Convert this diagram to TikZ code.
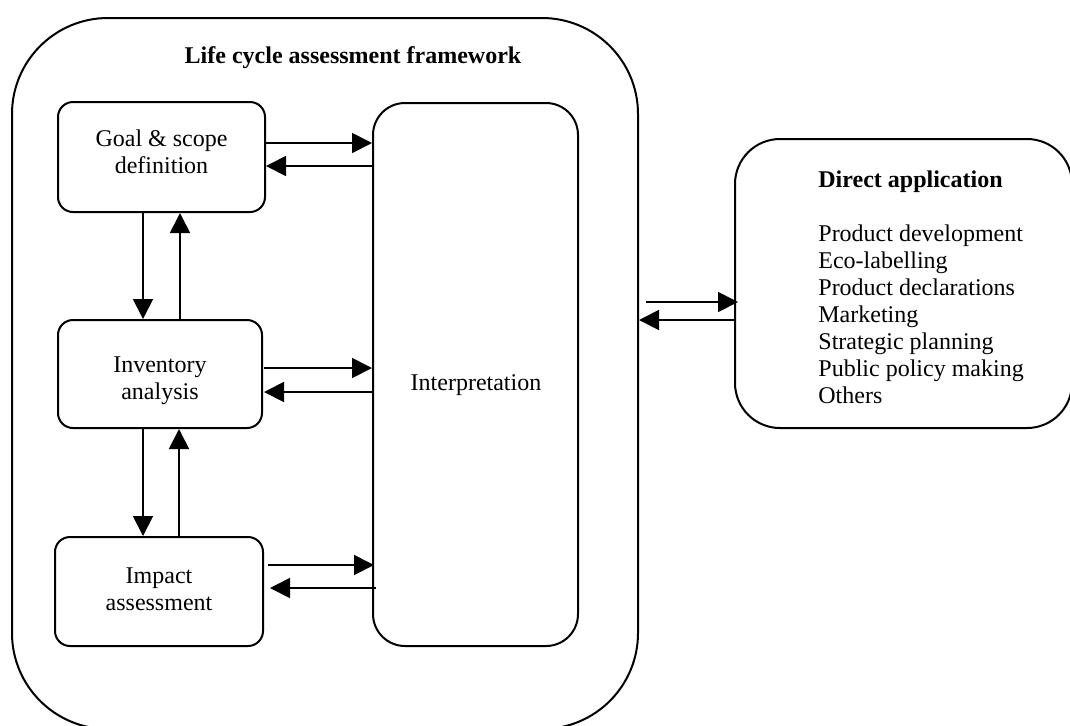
\documentclass[tikz,border=0pt]{standalone}
\usepackage{fontspec}
\setmainfont{Liberation Serif}
\usetikzlibrary{arrows.meta,calc}
\begin{document}
\begin{tikzpicture}[x=0.5pt,y=-0.5pt,
 box/.style={draw,line width=1pt,rounded corners=7.5pt,inner sep=0pt},
 txt/.style={font=\fontsize{12}{13.5}\selectfont,align=center,inner sep=0pt},
 arr/.style={line width=0.9pt,-{Triangle[length=10pt,width=10pt]}}]
\useasboundingbox (0,0) rectangle (1070,725);
% outer frame
\node[box,rounded corners=48pt,minimum width=313pt,minimum height=355.5pt] (frame) at (325,373.5) {};
\node[txt,font=\fontsize{12}{13.5}\selectfont\bfseries,anchor=base] (title) at (353,63) {Life cycle assessment framework};
% phase boxes
\node[box,minimum width=103.5pt,minimum height=55pt,
  label={[txt,yshift=2.5pt]center:Goal \& scope\\definition}] (goal) at (161.5,157) {};
\node[box,minimum width=102pt,minimum height=54pt,
  label={[txt,yshift=-3.5pt]center:Inventory\\analysis}] (inv) at (160,374) {};
\node[box,minimum width=104pt,minimum height=54.5pt,
  label={[txt,yshift=1.25pt]center:Impact\\assessment}] (imp) at (159,591.5) {};
\node[box,rounded corners=16pt,minimum width=102.5pt,minimum height=271.5pt] (interp) at (475.5,374.5) {};
\node[txt,anchor=base] (interptext) at (476,390) {Interpretation};
% direct application
\node[box,rounded corners=22.5pt,minimum width=168.5pt,minimum height=144.5pt] (direct) at (903.5,283.5) {};
\node[txt,align=left,anchor=north west] (apptext) at (818,170.4) {\textbf{Direct application}\\[13.5pt]Product development\\Eco-labelling\\Product declarations\\Marketing\\Strategic planning\\Public policy making\\Others};
% horizontal arrows: phases <-> interpretation
\coordinate (g1) at ($(goal.east)+(0,-14)$);
\coordinate (g2) at ($(goal.east)+(0,9)$);
\draw[arr] (g1) -- (g1 -| interp.west);
\draw[arr] ($(g2 -| interp.west)+(2,0)$) -- (g2);
\coordinate (i1) at ($(inv.east)+(1,-6)$);
\coordinate (i2) at ($(inv.east)+(1,18)$);
\draw[arr] (i1) -- (i1 -| interp.west);
\draw[arr] ($(i2 -| interp.west)+(2,0)$) -- (i2);
\coordinate (m1) at ($(imp.east)+(4,-26.5)$);
\coordinate (m2) at ($(imp.east)+(6,-3.5)$);
\draw[arr] (m1) -- ($(m1 -| interp.west)+(2,0)$);
\draw[arr] ($(m2 -| interp.west)+(4,0)$) -- (m2);
% vertical arrows
\coordinate (v1) at ($(goal.south)+(-18.5,0)$);
\coordinate (v2) at ($(goal.south)+(18.5,0)$);
\draw[arr] (v1) -- (v1 |- inv.north);
\draw[arr] (v2 |- inv.north) -- (v2);
\coordinate (w1) at ($(inv.south)+(-17,0)$);
\coordinate (w2) at ($(inv.south)+(19,0)$);
\draw[arr] (w1) -- (w1 |- imp.north);
\draw[arr] (w2 |- imp.north) -- (w2);
% framework <-> direct application
\coordinate (d1) at ($(direct.west)+(4,18.5)$);
\coordinate (d2) at ($(direct.west)+(0,36.5)$);
\coordinate (d1f) at (d1 -| frame.east);
\draw[arr] ($(d1f)+(7,0)$) -- (d1);
\draw[arr] (d2) -- (d2 -| frame.east);
\end{tikzpicture}
\end{document}
